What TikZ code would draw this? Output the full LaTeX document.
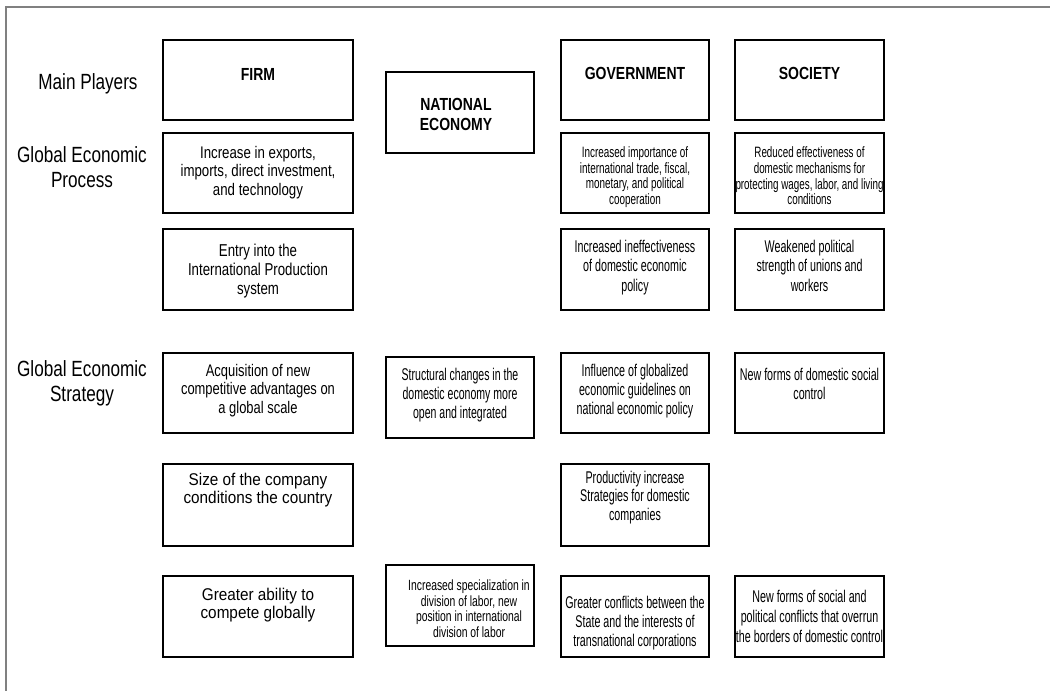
\documentclass[tikz,border=0pt]{standalone}
\usepackage{fontspec}
\setmainfont{Liberation Sans}
\usepackage{graphicx}
\newcommand\bt[4]{\scalebox{#1}[1]{\fontsize{#2}{#3}\selectfont\begin{tabular}{@{}c@{}}#4\end{tabular}}}
\newcommand\btb[4]{\scalebox{#1}[1]{\fontsize{#2}{#3}\selectfont\bfseries\begin{tabular}{@{}c@{}}#4\end{tabular}}}
\newcommand\mkbox[5]{\node[bx, minimum width={(#4-#2)*1pt}, minimum height={(#5-#3)*1pt}] (#1) at ({(#2+#4)/2},{(#3+#5)/2}) {};}
\tikzset{
  bx/.style={draw=black, line width=1.8pt, inner sep=0pt, rectangle},
  tx/.style={inner sep=0pt, anchor=center},
  frame/.style={draw=black!50, line width=2pt}
}
\begin{document}
\begin{tikzpicture}[x=1pt,y=-1pt]
\useasboundingbox (0,0) rectangle (1050,691);
\fill[white] (0,0) rectangle (1050,691);
\coordinate (fa) at (1050,7);
\coordinate (fb) at (6,7);
\coordinate (fc) at (6,691);
\draw[frame] (fa) -- (fb) -- (fc);
% row labels
\node[tx] (lmain) at (88,84) {\bt{0.78}{22}{25}{Main Players}};
\node[tx] (lproc) at (82,170) {\bt{0.78}{22}{25}{Global Economic\\Process}};
\node[tx] (lstrat) at (82,384) {\bt{0.78}{22}{25}{Global Economic\\Strategy}};
% FIRM column
\mkbox{f1}{163}{40}{353}{120}
\node[tx] (f1t) at (258,76) {\btb{0.8}{17.5}{20}{FIRM}};
\mkbox{f2}{163}{133}{353}{213}
\node[tx] (f2t) at (258,173) {\bt{0.79}{16.8}{18.5}{Increase in exports,\\imports, direct investment,\\and technology}};
\mkbox{f3}{163}{229}{353}{310}
\node[tx] (f3t) at (258,272) {\bt{0.77}{17.2}{19}{Entry into the\\International Production\\system}};
\mkbox{f4}{163}{353}{353}{433}
\node[tx] (f4t) at (258,391) {\bt{0.77}{16.8}{18.5}{Acquisition of new\\competitive advantages on\\a global scale}};
\mkbox{f5}{163}{464}{353}{546}
\node[tx] (f5t) at (258,491) {\bt{0.9}{17}{18.5}{Size of the company\\conditions the country}};
\mkbox{f6}{163}{576}{353}{657}
\node[tx] (f6t) at (258,606) {\bt{0.9}{17}{18.5}{Greater ability to\\compete globally}};
% NATIONAL ECONOMY column
\mkbox{n1}{386}{72}{534}{153}
\node[tx] (n1t) at (456,116) {\btb{0.8}{17.5}{20}{NATIONAL\\ECONOMY}};
\mkbox{n4}{386}{357}{534}{438}
\node[tx] (n4t) at (460,396) {\bt{0.62}{17}{19}{Structural changes in the\\domestic economy more\\open and integrated}};
\mkbox{n6}{386}{565}{534}{646}
\node[tx] (n6t) at (469,611) {\bt{0.7}{14.8}{15.5}{Increased specialization in\\division of labor, new\\position in international\\division of labor}};
% GOVERNMENT column
\mkbox{g1}{561}{40}{709}{120}
\node[tx] (g1t) at (635,75) {\btb{0.8}{17.5}{20}{GOVERNMENT}};
\mkbox{g2}{561}{133}{709}{213}
\node[tx] (g2t) at (635,178) {\bt{0.66}{15}{15.7}{Increased importance of\\international trade, fiscal,\\monetary, and political\\cooperation}};
\mkbox{g3}{561}{229}{709}{310}
\node[tx] (g3t) at (635,268) {\bt{0.63}{17}{19.5}{Increased ineffectiveness\\of domestic economic\\policy}};
\mkbox{g4}{561}{353}{709}{433}
\node[tx] (g4t) at (635,392) {\bt{0.63}{17}{19}{Influence of globalized\\economic guidelines on\\national economic policy}};
\mkbox{g5}{561}{464}{709}{546}
\node[tx] (g5t) at (635,498) {\bt{0.63}{17}{18.5}{Productivity increase\\Strategies for domestic\\companies}};
\mkbox{g6}{561}{576}{709}{657}
\node[tx] (g6t) at (635,624) {\bt{0.63}{17}{19}{Greater conflicts between the\\State and the interests of\\transnational corporations}};
% SOCIETY column
\mkbox{s1}{735}{40}{884}{120}
\node[tx] (s1t) at (809.5,75) {\btb{0.8}{17.5}{20}{SOCIETY}};
\mkbox{s2}{735}{133}{884}{213}
\node[tx] (s2t) at (809.5,178) {\bt{0.655}{15}{15.8}{Reduced effectiveness of\\domestic mechanisms for\\protecting wages, labor, and living\\conditions}};
\mkbox{s3}{735}{229}{884}{310}
\node[tx] (s3t) at (809.5,268) {\bt{0.63}{17}{19.5}{Weakened political\\strength of unions and\\workers}};
\mkbox{s4}{735}{353}{884}{433}
\node[tx] (s4t) at (809.5,386) {\bt{0.63}{17}{19}{New forms of domestic social\\control}};
\mkbox{s6}{735}{576}{884}{657}
\node[tx] (s6t) at (809.5,618) {\bt{0.63}{17}{20}{New forms of social and\\political conflicts that overrun\\the borders of domestic control}};
\end{tikzpicture}
\end{document}
